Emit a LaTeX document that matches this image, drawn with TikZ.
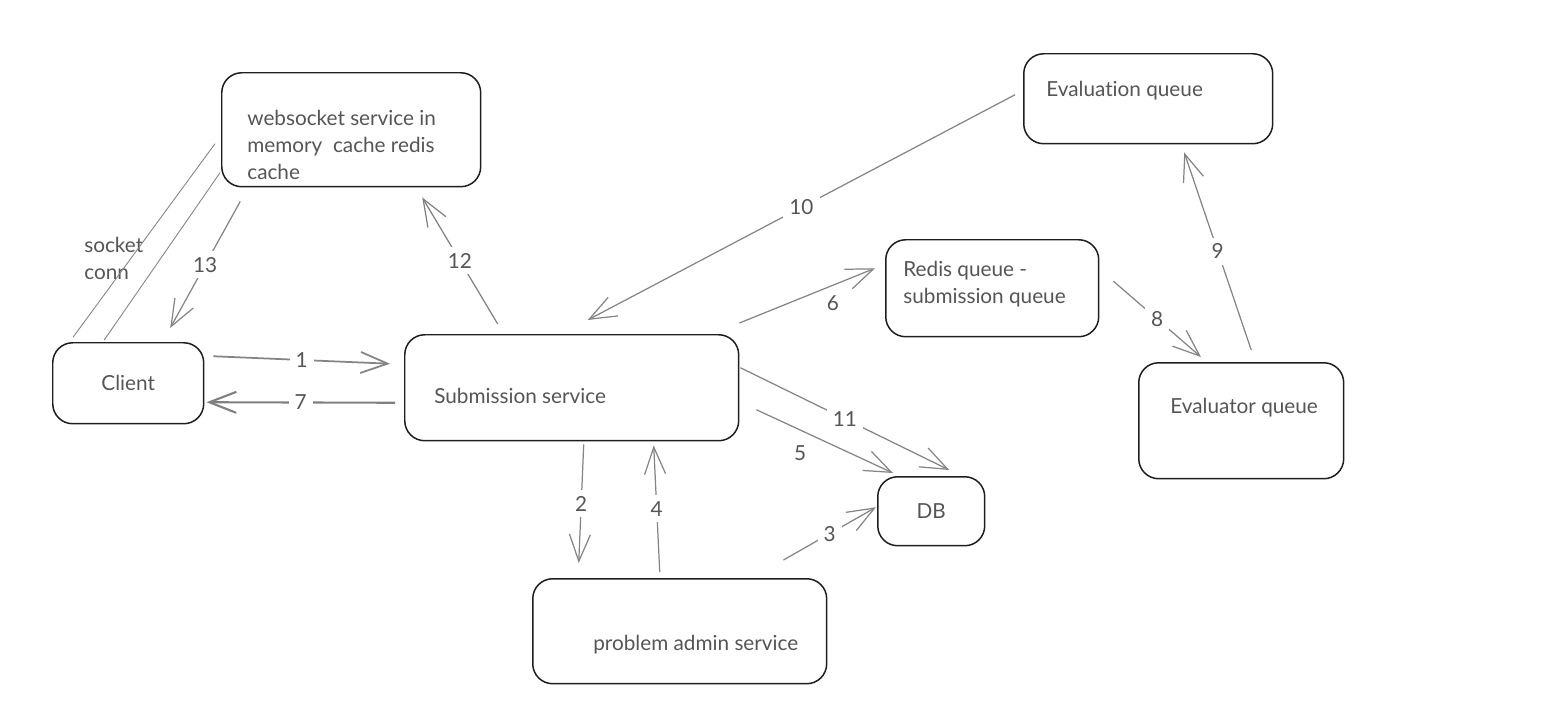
\documentclass[tikz,border=0pt]{standalone}
\usepackage{fontspec}
\setmainfont{Lato}[Ligatures={NoCommon}]
\usetikzlibrary{arrows.meta,calc}
\definecolor{inkgray}{HTML}{555555}
\definecolor{linegray}{HTML}{848484}
\definecolor{boxline}{HTML}{1E1E1E}
\begin{document}
\begin{tikzpicture}[x=0.02cm, y=-0.02cm,
		box/.style={draw=boxline, line width=0.85pt, rounded corners=4mm, inner sep=0pt, anchor=north west, text=inkgray, font=\fontsize{11.8}{15.4}\selectfont},
		txt/.style={anchor=west, align=left, text=inkgray, inner sep=0pt, font=\fontsize{11.8}{15.4}\selectfont},
		arr/.style={draw=linegray, line width=0.7pt, -{Straight Barb[length=5.4mm, width=4.2mm]}},
		num/.style={fill=white, text=inkgray, inner sep=3.5pt, font=\fontsize{11.8}{15.4}\selectfont}]
			\useasboundingbox (0,0) rectangle (1558,700);
			\node[box, minimum width=51.8mm, minimum height=22.8mm] (ws) at (221,72) {};
			\node[box, minimum width=30.2mm, minimum height=16.2mm] (cli) at (52,342) {Client};
			\node[box, minimum width=66.8mm, minimum height=21.2mm] (sub) at (404,334) {};
			\node[box, minimum width=42.6mm, minimum height=19.4mm] (rq) at (885,239) {};
			\node[box, minimum width=49.8mm, minimum height=18mm] (evq) at (1023,53) {};
			\node[box, minimum width=41mm, minimum height=23.2mm] (evr) at (1138,362) {};
			\node[box, minimum width=21.4mm, minimum height=13.8mm] (db) at (877,476) {DB};
			\node[box, minimum width=58.8mm, minimum height=21mm] (adm) at (532,578) {};
			\node[txt] (wstext) at (247,145) {websocket service in\\memory~ cache redis\\cache};
			\node[txt] (subtext) at (434,396) {Submission service};
			\node[txt] (rqtext) at (903,284) {Redis queue -\\submission queue};
			\node[txt] (evqtext) at (1046,91) {Evaluation queue};
			\node[txt] (evrtext) at (1170,408) {Evaluator queue};
			\node[txt] (admtext) at (593,645) {problem admin service};
			\node[txt] (socktext) at (84,258) {socket\\conn};
			\draw[linegray, line width=0.5pt] ($(ws.west)+(-6,14)$) -- ($(cli.north)+(-55,-5)$);
			\draw[linegray, line width=0.5pt] ($(ws.west)+(-1,43)$) -- ($(cli.north)+(-24,-2)$);
			\draw[arr, line width=1pt] ($(cli.east)+(9,-27)$) -- node[num] {1} ($(sub.west)+(-14,-24)$);
			\draw[arr, line width=1.2pt, draw=gray] ($(sub.west)+(-9,15)$) -- node[num] {7} ($(cli.east)+(2,19)$);
			\draw[arr] ($(sub.south)+(12,3)$) -- node[num] {2} ($(adm.north)+(-101,-15)$);
			\draw[arr] ($(adm.north)+(-20,-6)$) -- node[num] {4} ($(sub.south)+(82,4)$);
			\draw[arr] ($(adm.north east)+(-44,-18)$) -- node[num] {3} ($(db.west)+(-1,-4)$);
			\draw[arr] ($(sub.east)+(17,22)$) -- node[pos=0.32, yshift=-4.6mm, text=inkgray, font=\fontsize{11.8}{15.4}\selectfont] {5} ($(db.north west)+(16,-3)$);
			\draw[arr] ($(sub.east)+(1,-20)$) -- node[num] {11} ($(db.north)+(18,-6)$);
			\draw[arr] ($(sub.north east)+(0,-11)$) -- node[pos=0.69, yshift=-3.6mm, text=inkgray, font=\fontsize{11.8}{15.4}\selectfont] {6} ($(rq.west)+(-10,-20)$);
			\draw[arr] ($(evq.west)+(-8,-4)$) -- node[num] {10} ($(sub.north)+(16,-14)$);
			\draw[arr] ($(rq.east)+(14,-7)$) -- node[num] {8} ($(evr.north west)+(63,-5)$);
			\draw[arr] ($(evr.north)+(10,-12)$) -- node[num] {9} ($(evq.south)+(36,8)$);
			\draw[arr, draw=gray] ($(sub.north)+(-74,-10)$) -- node[num] {12} ($(ws.south)+(71,10)$);
			\draw[arr] ($(ws.south)+(-111,14)$) -- node[num] {13} ($(cli.north)+(42,-14)$);
		\end{tikzpicture}
\end{document}
